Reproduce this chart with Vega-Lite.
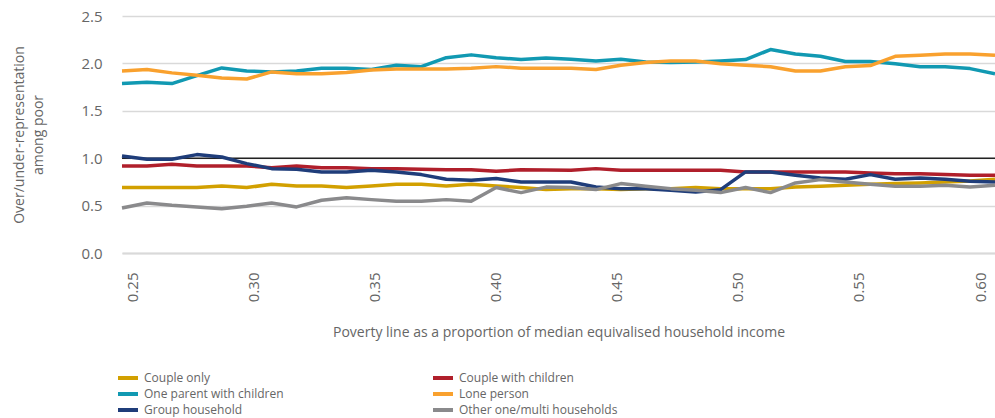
{
  "$schema": "https://vega.github.io/schema/vega-lite/v6.json",
  "width": 873,
  "height": 237,
  "autosize": {"type": "none"},
  "padding": {"left": 122, "top": 16, "right": 0, "bottom": 165},
  "background": "#ffffff",
  "config": {
    "view": {"stroke": null},
    "font": "Open Sans",
    "axis": {"labelColor": "#666666", "titleColor": "#666666", "titleFontWeight": "normal", "labelFont": "Open Sans", "titleFont": "Open Sans"},
    "legend": {"labelColor": "#666666", "labelFont": "Open Sans"}
  },
  "datasets": {
    "main": [
      {"x":0.25,"type":"Couple only","value":0.69},{"x":0.26,"type":"Couple only","value":0.69},{"x":0.27,"type":"Couple only","value":0.69},{"x":0.28,"type":"Couple only","value":0.69},{"x":0.29,"type":"Couple only","value":0.707},{"x":0.30,"type":"Couple only","value":0.69},{"x":0.31,"type":"Couple only","value":0.725},{"x":0.32,"type":"Couple only","value":0.707},{"x":0.33,"type":"Couple only","value":0.707},{"x":0.34,"type":"Couple only","value":0.69},{"x":0.35,"type":"Couple only","value":0.707},{"x":0.36,"type":"Couple only","value":0.725},{"x":0.37,"type":"Couple only","value":0.725},{"x":0.38,"type":"Couple only","value":0.707},{"x":0.39,"type":"Couple only","value":0.725},{"x":0.40,"type":"Couple only","value":0.707},{"x":0.41,"type":"Couple only","value":0.69},{"x":0.42,"type":"Couple only","value":0.669},{"x":0.43,"type":"Couple only","value":0.679},{"x":0.44,"type":"Couple only","value":0.679},{"x":0.45,"type":"Couple only","value":0.669},{"x":0.46,"type":"Couple only","value":0.679},{"x":0.47,"type":"Couple only","value":0.679},{"x":0.48,"type":"Couple only","value":0.69},{"x":0.49,"type":"Couple only","value":0.679},{"x":0.50,"type":"Couple only","value":0.679},{"x":0.51,"type":"Couple only","value":0.679},{"x":0.52,"type":"Couple only","value":0.697},{"x":0.53,"type":"Couple only","value":0.704},{"x":0.54,"type":"Couple only","value":0.714},{"x":0.55,"type":"Couple only","value":0.725},{"x":0.56,"type":"Couple only","value":0.732},{"x":0.57,"type":"Couple only","value":0.739},{"x":0.58,"type":"Couple only","value":0.749},{"x":0.59,"type":"Couple only","value":0.76},{"x":0.60,"type":"Couple only","value":0.777},
      {"x":0.25,"type":"Couple with children","value":0.918},{"x":0.26,"type":"Couple with children","value":0.918},{"x":0.27,"type":"Couple with children","value":0.936},{"x":0.28,"type":"Couple with children","value":0.918},{"x":0.29,"type":"Couple with children","value":0.918},{"x":0.30,"type":"Couple with children","value":0.918},{"x":0.31,"type":"Couple with children","value":0.90},{"x":0.32,"type":"Couple with children","value":0.918},{"x":0.33,"type":"Couple with children","value":0.90},{"x":0.34,"type":"Couple with children","value":0.90},{"x":0.35,"type":"Couple with children","value":0.89},{"x":0.36,"type":"Couple with children","value":0.89},{"x":0.37,"type":"Couple with children","value":0.883},{"x":0.38,"type":"Couple with children","value":0.879},{"x":0.39,"type":"Couple with children","value":0.879},{"x":0.40,"type":"Couple with children","value":0.862},{"x":0.41,"type":"Couple with children","value":0.879},{"x":0.42,"type":"Couple with children","value":0.875},{"x":0.43,"type":"Couple with children","value":0.872},{"x":0.44,"type":"Couple with children","value":0.89},{"x":0.45,"type":"Couple with children","value":0.872},{"x":0.46,"type":"Couple with children","value":0.872},{"x":0.47,"type":"Couple with children","value":0.872},{"x":0.48,"type":"Couple with children","value":0.872},{"x":0.49,"type":"Couple with children","value":0.872},{"x":0.50,"type":"Couple with children","value":0.855},{"x":0.51,"type":"Couple with children","value":0.855},{"x":0.52,"type":"Couple with children","value":0.855},{"x":0.53,"type":"Couple with children","value":0.855},{"x":0.54,"type":"Couple with children","value":0.855},{"x":0.55,"type":"Couple with children","value":0.844},{"x":0.56,"type":"Couple with children","value":0.837},{"x":0.57,"type":"Couple with children","value":0.837},{"x":0.58,"type":"Couple with children","value":0.827},{"x":0.59,"type":"Couple with children","value":0.82},{"x":0.60,"type":"Couple with children","value":0.82},
      {"x":0.25,"type":"One parent with children","value":1.787},{"x":0.26,"type":"One parent with children","value":1.80},{"x":0.27,"type":"One parent with children","value":1.787},{"x":0.28,"type":"One parent with children","value":1.871},{"x":0.29,"type":"One parent with children","value":1.952},{"x":0.30,"type":"One parent with children","value":1.92},{"x":0.31,"type":"One parent with children","value":1.91},{"x":0.32,"type":"One parent with children","value":1.92},{"x":0.33,"type":"One parent with children","value":1.95},{"x":0.34,"type":"One parent with children","value":1.95},{"x":0.35,"type":"One parent with children","value":1.935},{"x":0.36,"type":"One parent with children","value":1.98},{"x":0.37,"type":"One parent with children","value":1.965},{"x":0.38,"type":"One parent with children","value":2.06},{"x":0.39,"type":"One parent with children","value":2.09},{"x":0.40,"type":"One parent with children","value":2.06},{"x":0.41,"type":"One parent with children","value":2.04},{"x":0.42,"type":"One parent with children","value":2.057},{"x":0.43,"type":"One parent with children","value":2.043},{"x":0.44,"type":"One parent with children","value":2.025},{"x":0.45,"type":"One parent with children","value":2.043},{"x":0.46,"type":"One parent with children","value":2.015},{"x":0.47,"type":"One parent with children","value":2.01},{"x":0.48,"type":"One parent with children","value":2.015},{"x":0.49,"type":"One parent with children","value":2.025},{"x":0.50,"type":"One parent with children","value":2.04},{"x":0.51,"type":"One parent with children","value":2.146},{"x":0.52,"type":"One parent with children","value":2.10},{"x":0.53,"type":"One parent with children","value":2.075},{"x":0.54,"type":"One parent with children","value":2.02},{"x":0.55,"type":"One parent with children","value":2.02},{"x":0.56,"type":"One parent with children","value":1.997},{"x":0.57,"type":"One parent with children","value":1.965},{"x":0.58,"type":"One parent with children","value":1.965},{"x":0.59,"type":"One parent with children","value":1.945},{"x":0.60,"type":"One parent with children","value":1.89},
      {"x":0.25,"type":"Lone person","value":1.92},{"x":0.26,"type":"Lone person","value":1.935},{"x":0.27,"type":"Lone person","value":1.90},{"x":0.28,"type":"Lone person","value":1.875},{"x":0.29,"type":"Lone person","value":1.846},{"x":0.30,"type":"Lone person","value":1.835},{"x":0.31,"type":"Lone person","value":1.91},{"x":0.32,"type":"Lone person","value":1.89},{"x":0.33,"type":"Lone person","value":1.89},{"x":0.34,"type":"Lone person","value":1.905},{"x":0.35,"type":"Lone person","value":1.93},{"x":0.36,"type":"Lone person","value":1.94},{"x":0.37,"type":"Lone person","value":1.94},{"x":0.38,"type":"Lone person","value":1.94},{"x":0.39,"type":"Lone person","value":1.95},{"x":0.40,"type":"Lone person","value":1.966},{"x":0.41,"type":"Lone person","value":1.95},{"x":0.42,"type":"Lone person","value":1.95},{"x":0.43,"type":"Lone person","value":1.95},{"x":0.44,"type":"Lone person","value":1.935},{"x":0.45,"type":"Lone person","value":1.98},{"x":0.46,"type":"Lone person","value":2.01},{"x":0.47,"type":"Lone person","value":2.025},{"x":0.48,"type":"Lone person","value":2.025},{"x":0.49,"type":"Lone person","value":1.997},{"x":0.50,"type":"Lone person","value":1.98},{"x":0.51,"type":"Lone person","value":1.965},{"x":0.52,"type":"Lone person","value":1.92},{"x":0.53,"type":"Lone person","value":1.92},{"x":0.54,"type":"Lone person","value":1.965},{"x":0.55,"type":"Lone person","value":1.977},{"x":0.56,"type":"Lone person","value":2.075},{"x":0.57,"type":"Lone person","value":2.085},{"x":0.58,"type":"Lone person","value":2.10},{"x":0.59,"type":"Lone person","value":2.10},{"x":0.60,"type":"Lone person","value":2.085},
      {"x":0.25,"type":"Group household","value":1.024},{"x":0.26,"type":"Group household","value":0.988},{"x":0.27,"type":"Group household","value":0.988},{"x":0.28,"type":"Group household","value":1.038},{"x":0.29,"type":"Group household","value":1.013},{"x":0.30,"type":"Group household","value":0.943},{"x":0.31,"type":"Group household","value":0.89},{"x":0.32,"type":"Group household","value":0.883},{"x":0.33,"type":"Group household","value":0.855},{"x":0.34,"type":"Group household","value":0.855},{"x":0.35,"type":"Group household","value":0.872},{"x":0.36,"type":"Group household","value":0.855},{"x":0.37,"type":"Group household","value":0.827},{"x":0.38,"type":"Group household","value":0.777},{"x":0.39,"type":"Group household","value":0.767},{"x":0.40,"type":"Group household","value":0.785},{"x":0.41,"type":"Group household","value":0.749},{"x":0.42,"type":"Group household","value":0.749},{"x":0.43,"type":"Group household","value":0.749},{"x":0.44,"type":"Group household","value":0.697},{"x":0.45,"type":"Group household","value":0.679},{"x":0.46,"type":"Group household","value":0.679},{"x":0.47,"type":"Group household","value":0.661},{"x":0.48,"type":"Group household","value":0.644},{"x":0.49,"type":"Group household","value":0.668},{"x":0.50,"type":"Group household","value":0.855},{"x":0.51,"type":"Group household","value":0.855},{"x":0.52,"type":"Group household","value":0.82},{"x":0.53,"type":"Group household","value":0.79},{"x":0.54,"type":"Group household","value":0.777},{"x":0.55,"type":"Group household","value":0.827},{"x":0.56,"type":"Group household","value":0.777},{"x":0.57,"type":"Group household","value":0.79},{"x":0.58,"type":"Group household","value":0.777},{"x":0.59,"type":"Group household","value":0.756},{"x":0.60,"type":"Group household","value":0.749},
      {"x":0.25,"type":"Other one/multi households","value":0.475},{"x":0.26,"type":"Other one/multi households","value":0.528},{"x":0.27,"type":"Other one/multi households","value":0.503},{"x":0.28,"type":"Other one/multi households","value":0.486},{"x":0.29,"type":"Other one/multi households","value":0.468},{"x":0.30,"type":"Other one/multi households","value":0.493},{"x":0.31,"type":"Other one/multi households","value":0.528},{"x":0.32,"type":"Other one/multi households","value":0.486},{"x":0.33,"type":"Other one/multi households","value":0.556},{"x":0.34,"type":"Other one/multi households","value":0.584},{"x":0.35,"type":"Other one/multi households","value":0.563},{"x":0.36,"type":"Other one/multi households","value":0.545},{"x":0.37,"type":"Other one/multi households","value":0.545},{"x":0.38,"type":"Other one/multi households","value":0.563},{"x":0.39,"type":"Other one/multi households","value":0.545},{"x":0.40,"type":"Other one/multi households","value":0.69},{"x":0.41,"type":"Other one/multi households","value":0.637},{"x":0.42,"type":"Other one/multi households","value":0.695},{"x":0.43,"type":"Other one/multi households","value":0.69},{"x":0.44,"type":"Other one/multi households","value":0.669},{"x":0.45,"type":"Other one/multi households","value":0.732},{"x":0.46,"type":"Other one/multi households","value":0.704},{"x":0.47,"type":"Other one/multi households","value":0.679},{"x":0.48,"type":"Other one/multi households","value":0.661},{"x":0.49,"type":"Other one/multi households","value":0.637},{"x":0.50,"type":"Other one/multi households","value":0.69},{"x":0.51,"type":"Other one/multi households","value":0.637},{"x":0.52,"type":"Other one/multi households","value":0.739},{"x":0.53,"type":"Other one/multi households","value":0.774},{"x":0.54,"type":"Other one/multi households","value":0.749},{"x":0.55,"type":"Other one/multi households","value":0.725},{"x":0.56,"type":"Other one/multi households","value":0.704},{"x":0.57,"type":"Other one/multi households","value":0.704},{"x":0.58,"type":"Other one/multi households","value":0.714},{"x":0.59,"type":"Other one/multi households","value":0.697},{"x":0.60,"type":"Other one/multi households","value":0.714}
    ],
    "ref": [{"level": 1}]
  },
  "layer": [
    {
      "data": {"name": "ref"},
      "mark": {"type": "rule", "color": "#222222", "strokeWidth": 1.5},
      "encoding": {
        "y": {"field": "level", "type": "quantitative", "scale": {"domain": [0, 2.5], "nice": false}}
      }
    },
    {
      "data": {"name": "main"},
      "mark": {"type": "line", "strokeWidth": 3.5, "strokeJoin": "round"},
      "encoding": {
        "x": {
          "field": "x", "type": "quantitative",
          "scale": {"domain": [0.25, 0.60], "nice": false, "zero": false},
          "axis": {
            "values": [0.25, 0.30, 0.35, 0.40, 0.45, 0.50, 0.55, 0.60],
            "format": ".2f",
            "labelAngle": 270,
            "labelFontSize": 15,
            "labelPadding": 19,
            "labelOffset": {"expr": "10 - (datum.value - 0.25) * 71.4"},
            "ticks": false,
            "tickSize": 0,
            "grid": false,
            "domainColor": "#d9d9d9",
            "domainWidth": 2,
            "title": "Poverty line as a proportion of median equivalised household income",
            "titleFontSize": 14,
            "titlePadding": 24
          }
        },
        "y": {
          "field": "value", "type": "quantitative",
          "scale": {"domain": [0, 2.5], "nice": false},
          "axis": {
            "values": [0, 0.5, 1, 1.5, 2, 2.5],
            "format": ".1f",
            "grid": true,
            "gridColor": "#d9d9d9",
            "gridWidth": 1.5,
            "domain": false,
            "ticks": false,
            "tickSize": 0,
            "labelPadding": 20,
            "labelFontSize": 15,
            "title": ["Over/under-representation", "among poor"],
            "titleFontSize": 14,
            "titleLineHeight": 19,
            "titlePadding": 35
          }
        },
        "color": {
          "field": "type", "type": "nominal",
          "scale": {
            "domain": ["Couple only", "One parent with children", "Group household", "Couple with children", "Lone person", "Other one/multi households"],
            "range": ["#D2A000", "#1199B2", "#1F3D7A", "#B01F2B", "#F9A12E", "#8A8A8C"]
          },
          "legend": {
            "title": null,
            "orient": "none",
            "legendX": -6,
            "legendY": 354,
            "columns": 2,
            "columnPadding": 147,
            "rowPadding": 0,
            "clipHeight": 16,
            "symbolType": "stroke",
            "symbolSize": 400,
            "symbolStrokeWidth": 4,
            "labelFontSize": 12,
            "labelLimit": 300,
            "labelOffset": 4
          }
        }
      }
    }
  ]
}
